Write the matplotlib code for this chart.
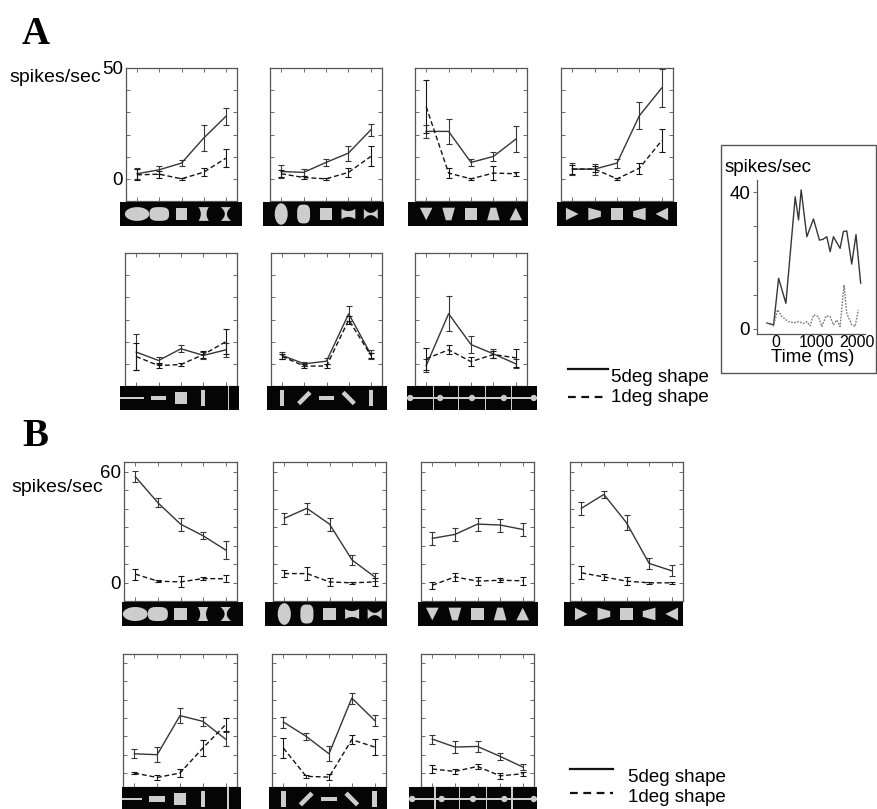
import numpy as np
import matplotlib
matplotlib.use("Agg")
import matplotlib.pyplot as plt
from matplotlib.patches import Polygon, Rectangle, Circle
from matplotlib.lines import Line2D

plt.rcParams['font.family'] = ['Liberation Sans', 'DejaVu Sans']

# ---------------- data ----------------
stim_index = [1, 2, 3, 4, 5]
shape_sets_top = ['round_h', 'round_v', 'tri_v', 'tri_h']
shape_sets_bottom = ['aspect', 'orient', 'dots']

# Cell A: mean response (spikes/sec) and error, 5deg (big) and 1deg (small) shapes
a_big_mean = [[2.3, 4.1, 7.1, 18.4, 28.2],
              [3.3, 2.9, 7.4, 11.6, 22.1],
              [21.4, 21.4, 7.4, 10.1, 17.9],
              [4.4, 4.4, 7.1, 28.5, 41.0],
              [5.3, 1.5, 6.8, 3.8, 6.3],
              [3.8, 0.0, 1.2, 22.6, 4.2],
              [-0.8, 22.6, 8.7, 4.5, 0.0]]
a_big_err = [[2.5, 1.7, 1.5, 6.0, 3.8],
             [3.0, 1.5, 1.5, 3.4, 2.6],
             [3.0, 5.6, 1.5, 2.2, 5.8],
             [2.8, 2.5, 2.0, 6.2, 8.7],
             [8.0, 1.5, 1.6, 1.5, 3.0],
             [1.5, 1.0, 1.5, 3.5, 2.0],
             [3.0, 7.9, 3.9, 2.0, 2.0]]
a_small_mean = [[1.8, 2.1, 0.0, 3.0, 9.3],
                [2.3, 0.6, 0.0, 2.9, 10.1],
                [32.5, 2.6, 0.0, 2.6, 2.3],
                [4.4, 4.4, 0.0, 4.8, 17.3],
                [3.3, -0.8, -0.3, 4.2, 10.0],
                [3.3, -1.0, -1.0, 19.8, 3.8],
                [2.3, 6.3, 1.0, 4.2, 2.7]]
a_small_err = [[2.5, 1.5, 0.5, 1.7, 4.0],
               [1.5, 0.5, 0.5, 2.0, 4.5],
               [12.0, 2.2, 0.5, 3.0, 1.0],
               [2.0, 1.5, 0.5, 2.5, 5.3],
               [6.0, 1.0, 0.5, 1.5, 5.5],
               [1.0, 1.0, 1.0, 2.0, 1.0],
               [4.9, 2.0, 2.0, 1.5, 4.0]]

# Cell B
b_big_mean = [[57.3, 43.2, 31.7, 25.4, 17.7],
              [34.8, 40.2, 31.7, 12.3, 3.2],
              [24.0, 26.1, 31.7, 31.2, 28.8],
              [40.2, 47.7, 32.4, 10.5, 6.5],
              [10.5, 10.0, 31.3, 28.2, 18.5],
              [27.8, 20.0, 10.5, 40.9, 28.7],
              [18.5, 14.2, 14.5, 9.1, 3.3]]
b_big_err = [[3.0, 2.5, 3.5, 2.0, 5.0],
             [3.0, 3.0, 3.5, 2.5, 2.0],
             [3.5, 3.5, 3.5, 3.5, 3.5],
             [3.5, 2.0, 4.0, 3.0, 3.0],
             [2.5, 4.0, 4.0, 2.5, 4.0],
             [3.0, 2.0, 4.0, 3.0, 3.0],
             [2.5, 3.5, 3.0, 2.0, 1.5]]
b_small_mean = [[4.7, 0.9, 0.5, 2.3, 2.2],
                [5.0, 5.0, 0.5, 0.0, 0.5],
                [-1.3, 3.2, 0.9, 1.4, 1.1],
                [5.4, 3.2, 0.9, 0.0, 0.0],
                [0.0, -2.4, 0.0, 13.6, 26.4],
                [13.6, -1.8, -2.2, 18.2, 14.2],
                [2.2, 0.9, 3.6, -1.5, -0.4]]
b_small_err = [[3.0, 0.5, 3.0, 1.0, 2.0],
               [2.0, 3.5, 2.0, 0.5, 2.0],
               [2.0, 2.0, 2.0, 1.0, 2.0],
               [3.5, 1.5, 2.0, 0.5, 0.5],
               [0.5, 1.5, 2.0, 4.5, 3.5],
               [5.5, 1.0, 1.5, 2.5, 4.5],
               [2.0, 1.5, 1.5, 1.5, 1.0]]

# Peri-stimulus time histogram for cell A (preferred shape)
psth_t_big = [-221, -57, 66, 246, 476, 558, 623, 763, 927, 1074, 1156, 1255,
              1337, 1419, 1583, 1665, 1747, 1870, 1976, 2091]
psth_big = [1.7, 1.2, 14.8, 7.5, 38.7, 31.9, 40.7, 27.0, 32.2, 26.0, 26.2, 27.0,
            22.6, 27.0, 23.6, 28.5, 28.7, 19.0, 27.6, 13.4]
psth_t_small = [-221, -57, 41, 148, 312, 435, 558, 681, 763, 845, 927, 1050,
                1132, 1238, 1337, 1419, 1501, 1583, 1681, 1747, 1870, 1952, 2034]
psth_small = [1.7, 0.9, 5.6, 3.6, 2.1, 1.8, 2.1, 1.6, 2.1, 0.9, 4.1, 3.6,
              0.7, 3.8, 3.6, 1.2, 2.6, 0.7, 12.9, 4.6, 1.2, 0.7, 5.6]
psth_time_ticks = [0, 1000, 2000]

legend_labels = ['5deg shape', '1deg shape']

# ---------------- layout ----------------
W, H, DPI = 877, 809, 100
fig = plt.figure(figsize=(W / DPI, H / DPI), dpi=DPI)
fig.patch.set_facecolor('white')

INK = '#363636'
DASH_INK = '#141414'
SPINE = '#555555'
SHAPE = '#cdcdcd'
FS = 13.5


def px_axes(x0, y0, x1, y1):
    return fig.add_axes([x0 / W, 1 - y1 / H, (x1 - x0) / W, (y1 - y0) / H])


def fx(x):
    return x / W


def fy(y):
    return 1 - y / H


# ---- stimulus outlines ----
def superellipse(a, b, n, m=90):
    t = np.linspace(0, 2 * np.pi, m, endpoint=False)
    c, s = np.cos(t), np.sin(t)
    return np.column_stack([a * np.sign(c) * np.abs(c) ** (2 / n),
                            b * np.sign(s) * np.abs(s) ** (2 / n)])


def square(h):
    return np.array([[-h, -h], [h, -h], [h, h], [-h, h]])


def concave(w0, wc, h, n=24):
    ys = np.linspace(h, -h, n)
    hw = w0 - (w0 - wc) * (1 - (ys / h) ** 2)
    return np.vstack([np.column_stack([hw, ys]),
                      np.column_stack([-hw[::-1], ys[::-1]])])


def bar(length, width, angle_deg):
    r = np.deg2rad(angle_deg)
    u = np.array([np.cos(r), np.sin(r)])
    v = np.array([-np.sin(r), np.cos(r)])
    pts = [u * length / 2 + v * width / 2, -u * length / 2 + v * width / 2,
           -u * length / 2 - v * width / 2, u * length / 2 - v * width / 2]
    return np.array(pts)


def stimulus_patches(kind, xlim, half_h):
    outlines = None
    s = 0.27
    if kind == 'round_h':
        outlines = [superellipse(0.55, 0.31, 2), superellipse(0.44, 0.31, 3),
                    square(s), concave(0.23, 0.13, 0.31), concave(0.23, 0.05, 0.31)]
    elif kind == 'round_v':
        outlines = [superellipse(0.29, 0.48, 2), superellipse(0.29, 0.42, 3),
                    square(s), concave(0.23, 0.13, 0.31)[:, ::-1],
                    concave(0.23, 0.05, 0.31)[:, ::-1]]
    elif kind in ('tri_v', 'tri_h'):
        t = 0.28
        outlines = [np.array([[-t, t], [t, t], [0, -t]]),
                    np.array([[-t, t], [t, t], [0.45 * t, -t], [-0.45 * t, -t]]),
                    square(s),
                    np.array([[-t, -t], [t, -t], [0.45 * t, t], [-0.45 * t, t]]),
                    np.array([[-t, -t], [t, -t], [0, t]])]
        if kind == 'tri_h':
            outlines = [np.column_stack([-o[:, 1], o[:, 0]]) for o in outlines]
    elif kind == 'orient':
        outlines = [bar(0.72, 0.2, a) for a in (90, 45, 0, -45, 90)]

    patches = []
    if outlines is not None:
        for x, o in zip(stim_index, outlines):
            patches.append(Polygon(o + [x, 0], closed=True, fc=SHAPE, ec='none'))
        return patches

    if kind == 'aspect':
        patches.append(Rectangle((xlim[0], -0.05), 1.33 - xlim[0], 0.1, fc=SHAPE, ec='none'))
        patches.append(Rectangle((2 - 0.35, -0.11), 0.7, 0.22, fc=SHAPE, ec='none'))
        patches.append(Rectangle((3 - 0.27, -0.27), 0.54, 0.54, fc=SHAPE, ec='none'))
        patches.append(Rectangle((4 - 0.085, -0.35), 0.17, 0.7, fc=SHAPE, ec='none'))
        patches.append(Rectangle((5.12 - 0.04, -half_h), 0.08, 2 * half_h, fc=SHAPE, ec='none'))
    elif kind == 'dots':
        span = xlim[1] - xlim[0]
        patches.append(Rectangle((xlim[0], -0.04), span, 0.08, fc=SHAPE, ec='none'))
        for f in (0.205, 0.395, 0.605, 0.805):
            patches.append(Rectangle((xlim[0] + f * span - 0.035, -half_h), 0.07,
                                     2 * half_h, fc=SHAPE, ec='none'))
        for f in (0.025, 0.255, 0.5, 0.745, 0.975):
            patches.append(Circle((xlim[0] + f * span, 0), 0.14, fc=SHAPE, ec='none'))
    return patches


def strip_axes(strip_box, axes_box, kind):
    sx0, sy0, sx1, sy1 = strip_box
    ax0, _, ax1, _ = axes_box
    upp = 5.0 / (ax1 - ax0)
    ax = px_axes(*strip_box)
    xlim = (0.5 + (sx0 - ax0) * upp, 5.5 + (sx1 - ax1) * upp)
    half_h = (sy1 - sy0) * upp / 2
    ax.set_xlim(*xlim)
    ax.set_ylim(-half_h, half_h)
    ax.set_facecolor('#050505')
    for sp in ax.spines.values():
        sp.set_visible(False)
    ax.set_xticks([])
    ax.set_yticks([])
    for p in stimulus_patches(kind, xlim, half_h):
        ax.add_patch(p)
    return ax


def tuning_axes(box, ylim, top_label, labeled):
    ax = px_axes(*box)
    ax.set_xlim(0.5, 5.5)
    ax.set_ylim(*ylim)
    ax.set_xticks(stim_index)
    ax.set_xticklabels([])
    yt = list(range(0, top_label + 1, 10))
    ax.set_yticks(yt)
    if labeled:
        ax.set_yticklabels([str(v) if v in (0, top_label) else '' for v in yt])
    else:
        ax.set_yticklabels([])
    ax.tick_params(direction='in', length=3, width=0.6, color=SPINE,
                   top=True, right=True, labelsize=FS, pad=2)
    for sp in ax.spines.values():
        sp.set_color(SPINE)
        sp.set_linewidth(0.9)
    return ax


def draw_curves(ax, big, big_err, small, small_err):
    ax.plot(stim_index, big, color=INK, lw=1.0)
    ax.errorbar(stim_index, big, yerr=big_err, fmt='none', ecolor=INK,
                elinewidth=0.8, capsize=2, capthick=0.8)
    ax.plot(stim_index, small, color=DASH_INK, lw=1.0, dashes=(3.5, 2))
    ax.errorbar(stim_index, small, yerr=small_err, fmt='none', ecolor=DASH_INK,
                elinewidth=0.8, capsize=2, capthick=0.8)


# pixel boxes (left, top, right, bottom)
rows = [
    dict(axes=[(126, 68, 237, 201), (270, 68, 382, 201), (415, 68, 527, 201), (561, 68, 673, 201)],
         strips=[(120, 202, 242, 226), (263, 202, 384, 226), (408, 202, 528, 226), (557, 202, 677, 226)],
         kinds=shape_sets_top, ylim=(-10, 50), top=50, cell='A', first=0),
    dict(axes=[(125, 253, 237, 386), (271, 253, 382, 386), (415, 253, 527, 386)],
         strips=[(120, 386, 239, 410), (267, 386, 387, 410), (407, 386, 537, 410)],
         kinds=shape_sets_bottom, ylim=(-10, 50), top=50, cell='A', first=4),
    dict(axes=[(124, 462, 237, 601), (273, 462, 386, 601), (421, 462, 534, 601), (570, 462, 683, 601)],
         strips=[(122, 602, 243, 626), (265, 602, 387, 626), (418, 602, 538, 626), (564, 602, 683, 626)],
         kinds=shape_sets_top, ylim=(-9.8, 65.2), top=60, cell='B', first=0),
    dict(axes=[(123, 654, 237, 787), (272, 654, 386, 787), (421, 654, 534, 787)],
         strips=[(122, 787, 241, 811), (269, 787, 387, 811), (409, 787, 537, 811)],
         kinds=shape_sets_bottom, ylim=(-7.6, 64.9), top=60, cell='B', first=4),
]

for r, row in enumerate(rows):
    data = (a_big_mean, a_big_err, a_small_mean, a_small_err) if row['cell'] == 'A' else \
           (b_big_mean, b_big_err, b_small_mean, b_small_err)
    for j, (abox, sbox, kind) in enumerate(zip(row['axes'], row['strips'], row['kinds'])):
        labeled = (j == 0 and row['first'] == 0)
        ax = tuning_axes(abox, row['ylim'], row['top'], labeled)
        k = row['first'] + j
        draw_curves(ax, data[0][k], data[1][k], data[2][k], data[3][k])
        strip_axes(sbox, abox, kind)

# y-axis unit labels and panel letters
fig.text(fx(9), fy(78), 'spikes/sec', fontsize=14, ha='left', va='center')
fig.text(fx(11), fy(488), 'spikes/sec', fontsize=14, ha='left', va='center')
fig.text(fx(22), fy(35), 'A', fontsize=28, fontweight='bold',
         family=['Liberation Serif', 'DejaVu Serif'], ha='left', va='center')
fig.text(fx(22), fy(437), 'B', fontsize=28, fontweight='bold',
         family=['Liberation Serif', 'DejaVu Serif'], ha='left', va='center')

# legends
for (lx0, lx1, ly_s, ly_d, tx, ty_s, ty_d) in [(568, 608, 369, 397, 611, 377, 397),
                                              (570, 613, 769, 793, 628, 777, 798)]:
    fig.add_artist(Line2D([fx(lx0), fx(lx1)], [fy(ly_s), fy(ly_s)], color='#111111', lw=1.6))
    fig.add_artist(Line2D([fx(lx0), fx(lx1)], [fy(ly_d), fy(ly_d)], color='#111111', lw=1.6,
                          dashes=(3.5, 2.5)))
    fig.text(fx(tx), fy(ty_s), legend_labels[0], fontsize=FS, ha='left', va='center')
    fig.text(fx(tx), fy(ty_d), legend_labels[1], fontsize=FS, ha='left', va='center')

# inset PSTH
fig.add_artist(Rectangle((fx(721), fy(373)), (876 - 721) / W, (373 - 145) / H,
                         transform=fig.transFigure, fill=False, ec=SPINE, lw=1.0))
axp = px_axes(757, 180, 865, 334)
axp.plot(psth_t_big, psth_big, color=INK, lw=1.0)
axp.plot(psth_t_small, psth_small, color='#777777', lw=1.0, linestyle=(0, (1.2, 1.0)))
axp.set_xlim(-467, 2198)
axp.set_ylim(-1.5, 43.6)
axp.spines['top'].set_visible(False)
axp.spines['right'].set_visible(False)
for sp in ('left', 'bottom'):
    axp.spines[sp].set_color(SPINE)
    axp.spines[sp].set_linewidth(0.9)
axp.set_yticks([0, 10, 20, 30, 40])
axp.set_yticklabels(['0', '', '', '', '40'])
axp.set_xticks(psth_time_ticks)
axp.set_xticklabels([str(v) for v in psth_time_ticks])
axp.tick_params(axis='y', direction='out', length=3, width=0.6, color=SPINE, labelsize=FS, pad=2)
axp.tick_params(axis='x', direction='out', length=0, labelsize=11.5, pad=1)
fig.text(fx(725), fy(168), 'spikes/sec', fontsize=FS, ha='left', va='center')
fig.text(fx(813), fy(358), 'Time (ms)', fontsize=FS, ha='center', va='center')

fig.savefig('out.png', dpi=DPI, facecolor='white')
